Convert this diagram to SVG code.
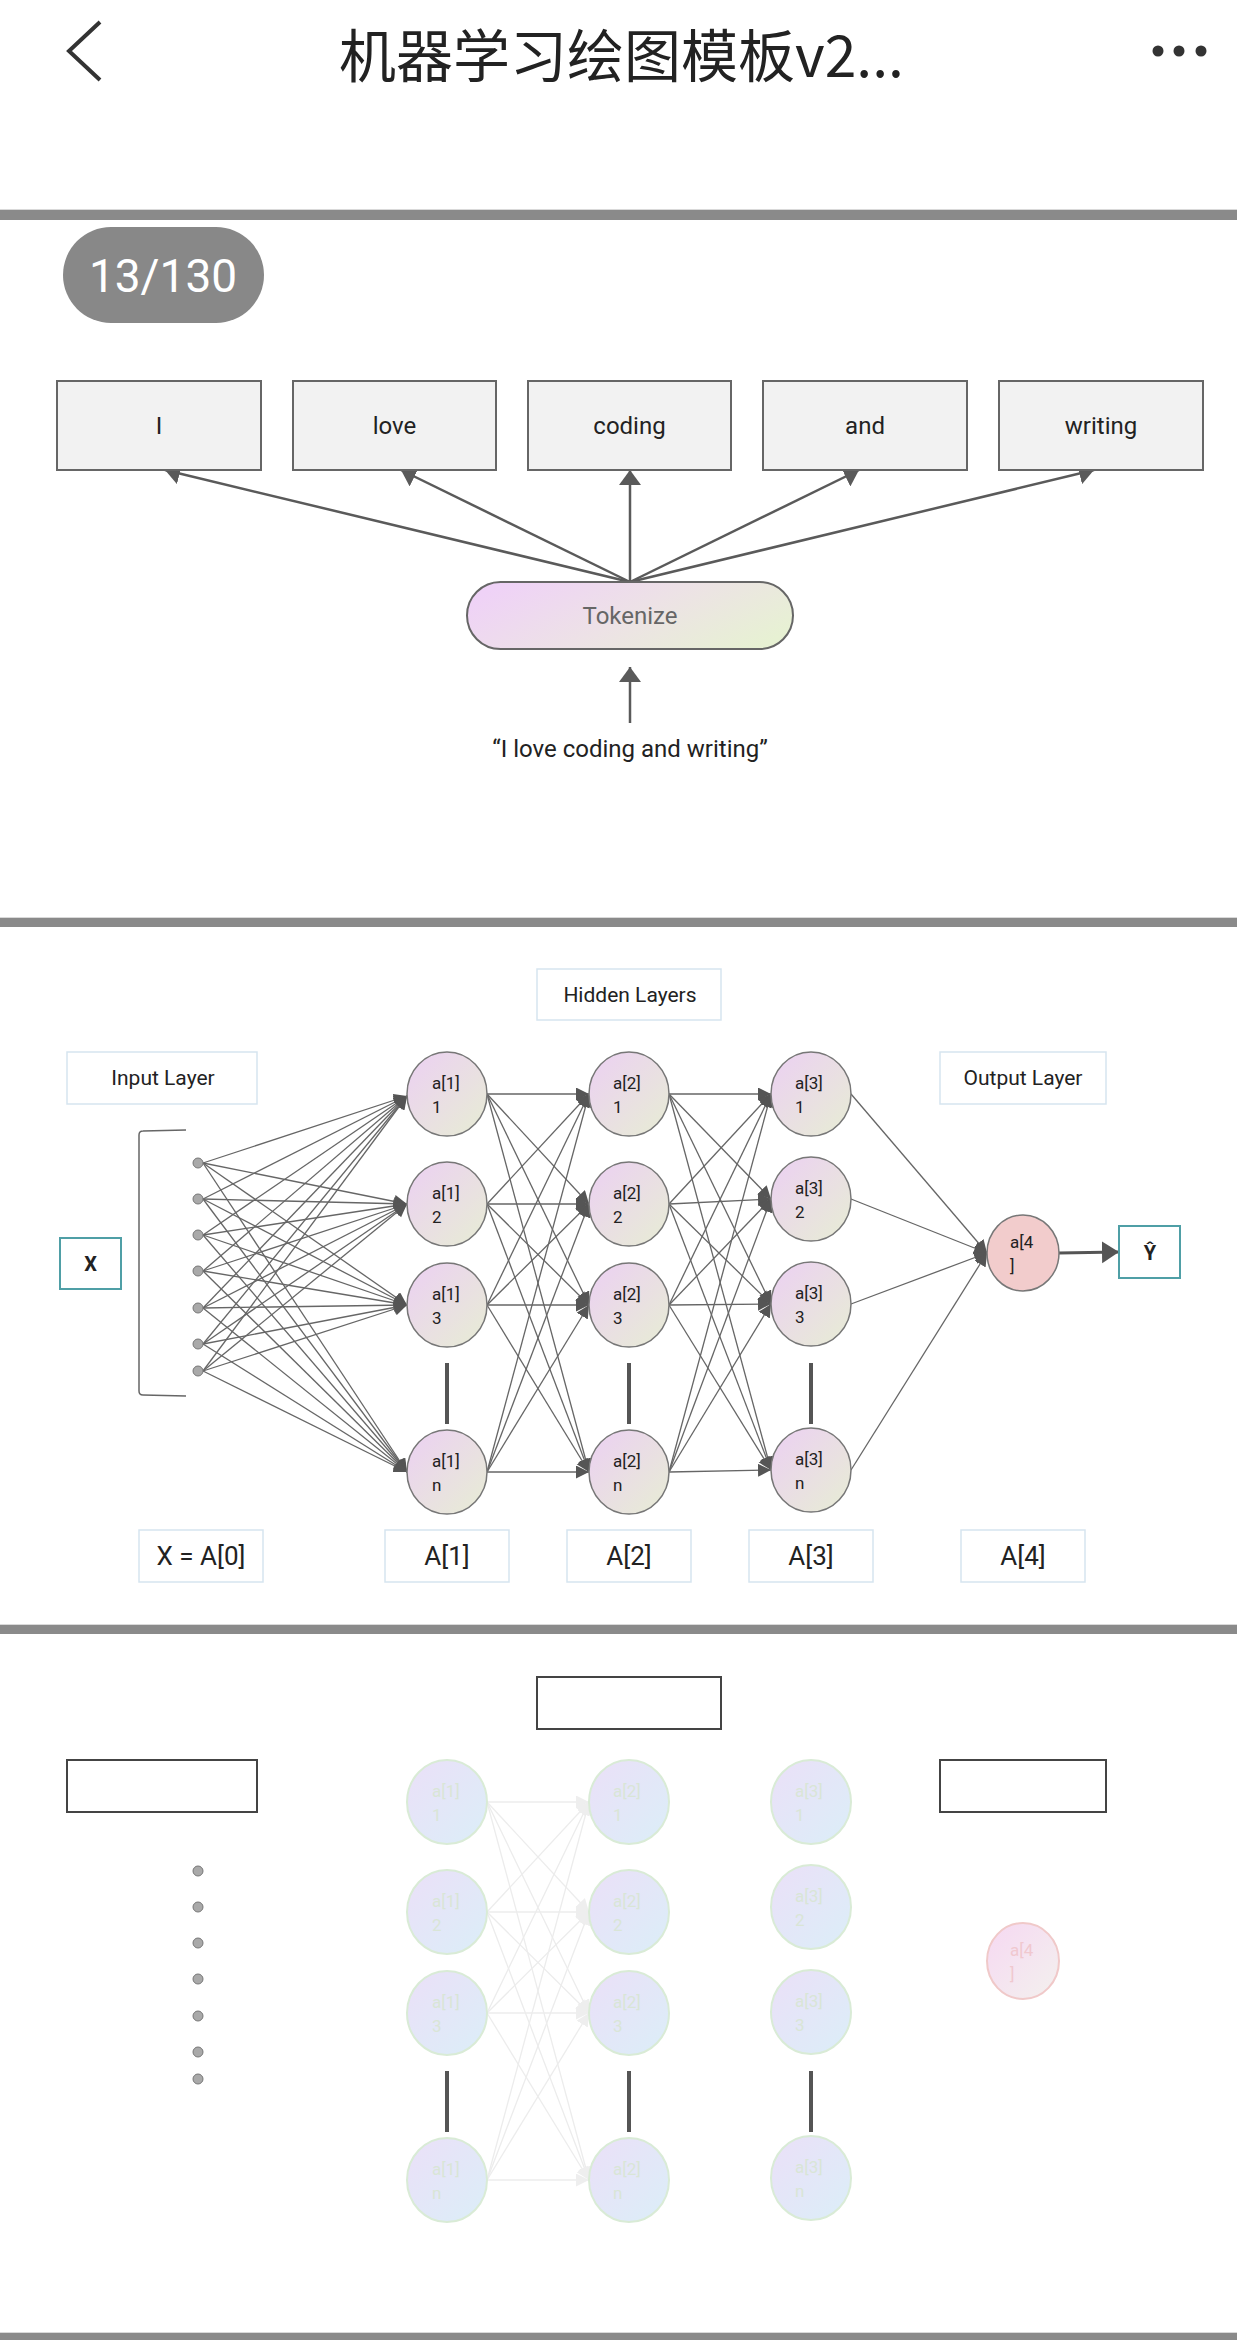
<svg xmlns="http://www.w3.org/2000/svg" width="1237" height="2340" viewBox="0 0 1237 2340">
<defs>
<style>
.t{font-family:Roboto,"Liberation Sans",sans-serif;fill:#222}
.word{fill:#f2f2f2;stroke:#666;stroke-width:2}
.wt{font-size:24px;text-anchor:middle}
.lbl{fill:#fff;stroke:#d6e5ef;stroke-width:1.5}
.neu{fill:url(#gN);stroke:#777;stroke-width:1.5}
.fneu{fill:url(#gF);stroke:#d9ebd6;stroke-width:2}
.nl{font-size:17px}
.fl{font-size:17px;fill:#d9e5d6}
.con{stroke:#666;stroke-width:1.3;fill:none}
.fcon{stroke:#ececec;stroke-width:1.3;fill:none}
.bar{stroke:#555;stroke-width:4}
.sep{fill:#8a8a8a}
.dot{fill:#a9a9a9;stroke:#777;stroke-width:1}
.ebox{fill:#fff;stroke:#444;stroke-width:2}
</style>
<linearGradient id="gN" x1="0" y1="0" x2="1" y2="1"><stop offset="0" stop-color="#ecd0f3"/><stop offset="1" stop-color="#e7edd4"/></linearGradient>
<linearGradient id="gF" x1="0" y1="0" x2="1" y2="1"><stop offset="0" stop-color="#ebe0f8"/><stop offset="1" stop-color="#dbeef8"/></linearGradient>
<linearGradient id="gT" x1="0" y1="0.3" x2="1" y2="0.7"><stop offset="0" stop-color="#efd2f7"/><stop offset="0.5" stop-color="#ede2e6"/><stop offset="1" stop-color="#e7f1d3"/></linearGradient>
<linearGradient id="gFo" x1="0" y1="0" x2="1" y2="1"><stop offset="0" stop-color="#f6d8f2"/><stop offset="1" stop-color="#f3f1ee"/></linearGradient>
<marker id="aw" markerUnits="userSpaceOnUse" markerWidth="16" markerHeight="22" refX="15" refY="11" orient="auto"><path d="M0,0 L15,11 L0,22 z" fill="#5a5a5a"/></marker>
<marker id="ah" markerUnits="userSpaceOnUse" markerWidth="14" markerHeight="14" refX="13" refY="6.5" orient="auto"><path d="M0,0 L13,6.5 L0,13 z" fill="#555"/></marker>
<marker id="af" markerUnits="userSpaceOnUse" markerWidth="14" markerHeight="14" refX="13" refY="6.5" orient="auto"><path d="M0,0 L13,6.5 L0,13 z" fill="#eeeeee"/></marker>
<marker id="ao" markerUnits="userSpaceOnUse" markerWidth="18" markerHeight="24" refX="17" refY="11" orient="auto"><path d="M0,0 L17,11 L0,22 z" fill="#555"/></marker>
</defs>
<rect width="1237" height="2340" fill="#fff"/>

<!-- header -->
<g id="header">
<polyline points="100,22 69,51 100,80" fill="none" stroke="#333" stroke-width="4"/>
<text x="339" y="77" font-family="'Noto Sans CJK SC','Noto Sans',sans-serif" font-size="57" fill="#222">机器学习绘图模板v2...</text>
<circle cx="1158" cy="51" r="5.5" fill="#333"/><circle cx="1179" cy="51" r="5.5" fill="#333"/><circle cx="1201" cy="51" r="5.5" fill="#333"/>
</g>

<!-- separators -->
<g id="separators">
<rect x="0" y="209" width="1237" height="1" fill="#d9d9d9"/><rect class="sep" x="0" y="210" width="1237" height="10"/>
<rect x="0" y="917" width="1237" height="1" fill="#d9d9d9"/><rect class="sep" x="0" y="918" width="1237" height="9"/>
<rect x="0" y="1624" width="1237" height="1" fill="#d9d9d9"/><rect class="sep" x="0" y="1625" width="1237" height="9"/>
<rect x="0" y="2332" width="1237" height="1" fill="#d9d9d9"/><rect class="sep" x="0" y="2333" width="1237" height="7"/>
</g>

<g id="badge">
<rect x="63" y="227" width="201" height="96" rx="48" fill="#888"/>
<text x="163" y="292" font-family="Roboto,'Liberation Sans',sans-serif" font-size="46" fill="#fff" text-anchor="middle">13/130</text>
</g>

<!-- Section 1 -->
<g id="connectors-tokenize" stroke="#5a5a5a" stroke-width="2.5" fill="none">
<line x1="630" y1="582" x2="165" y2="470" marker-end="url(#aw)"/>
<line x1="630" y1="582" x2="401" y2="470" marker-end="url(#aw)"/>
<line x1="630" y1="582" x2="630" y2="470" marker-end="url(#aw)"/>
<line x1="630" y1="582" x2="859" y2="470" marker-end="url(#aw)"/>
<line x1="630" y1="582" x2="1094" y2="470" marker-end="url(#aw)"/>
<line x1="630" y1="723" x2="630" y2="667" marker-end="url(#aw)"/>
</g>
<g id="w-I"><rect class="word" x="57" y="381" width="204" height="89"/><text class="t wt" x="159" y="434">I</text></g>
<g id="w-love"><rect class="word" x="293" y="381" width="203" height="89"/><text class="t wt" x="394.5" y="434">love</text></g>
<g id="w-coding"><rect class="word" x="528" y="381" width="203" height="89"/><text class="t wt" x="629.5" y="434">coding</text></g>
<g id="w-and"><rect class="word" x="763" y="381" width="204" height="89"/><text class="t wt" x="865" y="434">and</text></g>
<g id="w-writing"><rect class="word" x="999" y="381" width="204" height="89"/><text class="t wt" x="1101" y="434">writing</text></g>
<g id="tokenize"><rect x="467" y="582" width="326" height="67" rx="33.5" fill="url(#gT)" stroke="#666" stroke-width="2"/><text class="t wt" x="630" y="624" style="fill:#666">Tokenize</text></g>
<g id="sentence"><text class="t wt" x="630" y="757">“I love coding and writing”</text></g>

<!-- Section 2 -->
<g id="connectors-nn">
<g class="con" marker-end="url(#ah)">
<line x1="203" y1="1163" x2="407" y2="1096"/><line x1="203" y1="1163" x2="407" y2="1204"/><line x1="203" y1="1163" x2="407" y2="1305"/><line x1="203" y1="1163" x2="407" y2="1472"/>
<line x1="203" y1="1199" x2="407" y2="1096"/><line x1="203" y1="1199" x2="407" y2="1204"/><line x1="203" y1="1199" x2="407" y2="1305"/><line x1="203" y1="1199" x2="407" y2="1472"/>
<line x1="203" y1="1235" x2="407" y2="1096"/><line x1="203" y1="1235" x2="407" y2="1204"/><line x1="203" y1="1235" x2="407" y2="1305"/><line x1="203" y1="1235" x2="407" y2="1472"/>
<line x1="203" y1="1271" x2="407" y2="1096"/><line x1="203" y1="1271" x2="407" y2="1204"/><line x1="203" y1="1271" x2="407" y2="1305"/><line x1="203" y1="1271" x2="407" y2="1472"/>
<line x1="203" y1="1308" x2="407" y2="1096"/><line x1="203" y1="1308" x2="407" y2="1204"/><line x1="203" y1="1308" x2="407" y2="1305"/><line x1="203" y1="1308" x2="407" y2="1472"/>
<line x1="203" y1="1344" x2="407" y2="1096"/><line x1="203" y1="1344" x2="407" y2="1204"/><line x1="203" y1="1344" x2="407" y2="1305"/><line x1="203" y1="1344" x2="407" y2="1472"/>
<line x1="203" y1="1371" x2="407" y2="1096"/><line x1="203" y1="1371" x2="407" y2="1204"/><line x1="203" y1="1371" x2="407" y2="1305"/><line x1="203" y1="1371" x2="407" y2="1472"/>

<line x1="487" y1="1094" x2="589" y2="1094"/><line x1="487" y1="1094" x2="589" y2="1204"/><line x1="487" y1="1094" x2="589" y2="1305"/><line x1="487" y1="1094" x2="589" y2="1472"/>
<line x1="487" y1="1204" x2="589" y2="1094"/><line x1="487" y1="1204" x2="589" y2="1204"/><line x1="487" y1="1204" x2="589" y2="1305"/><line x1="487" y1="1204" x2="589" y2="1472"/>
<line x1="487" y1="1305" x2="589" y2="1094"/><line x1="487" y1="1305" x2="589" y2="1204"/><line x1="487" y1="1305" x2="589" y2="1305"/><line x1="487" y1="1305" x2="589" y2="1472"/>
<line x1="487" y1="1472" x2="589" y2="1094"/><line x1="487" y1="1472" x2="589" y2="1204"/><line x1="487" y1="1472" x2="589" y2="1305"/><line x1="487" y1="1472" x2="589" y2="1472"/>

<line x1="669" y1="1094" x2="771" y2="1094"/><line x1="669" y1="1094" x2="771" y2="1199"/><line x1="669" y1="1094" x2="771" y2="1304"/><line x1="669" y1="1094" x2="771" y2="1470"/>
<line x1="669" y1="1204" x2="771" y2="1094"/><line x1="669" y1="1204" x2="771" y2="1199"/><line x1="669" y1="1204" x2="771" y2="1304"/><line x1="669" y1="1204" x2="771" y2="1470"/>
<line x1="669" y1="1305" x2="771" y2="1094"/><line x1="669" y1="1305" x2="771" y2="1199"/><line x1="669" y1="1305" x2="771" y2="1304"/><line x1="669" y1="1305" x2="771" y2="1470"/>
<line x1="669" y1="1472" x2="771" y2="1094"/><line x1="669" y1="1472" x2="771" y2="1199"/><line x1="669" y1="1472" x2="771" y2="1304"/><line x1="669" y1="1472" x2="771" y2="1470"/>

<line x1="851" y1="1094" x2="987" y2="1253"/><line x1="851" y1="1199" x2="987" y2="1253"/><line x1="851" y1="1304" x2="987" y2="1253"/><line x1="851" y1="1470" x2="987" y2="1253"/>
</g>
<line x1="1059" y1="1253" x2="1119" y2="1252" stroke="#555" stroke-width="3" marker-end="url(#ao)"/>
</g>

<g id="lbl-hidden"><rect class="lbl" x="537" y="969" width="184" height="51"/><text class="t" x="630" y="1002" font-size="21" text-anchor="middle">Hidden Layers</text></g>
<g id="lbl-input"><rect class="lbl" x="67" y="1052" width="190" height="52"/><text class="t" x="163" y="1085" font-size="21" text-anchor="middle">Input Layer</text></g>
<g id="lbl-output"><rect class="lbl" x="940" y="1052" width="166" height="52"/><text class="t" x="1023" y="1085" font-size="21" text-anchor="middle">Output Layer</text></g>
<g id="box-x"><rect x="60" y="1238" width="61" height="51" fill="#fff" stroke="#4f9fa6" stroke-width="2"/><text class="t" x="90.5" y="1271" font-size="20" font-weight="bold" text-anchor="middle">X</text></g>
<g id="box-y"><rect x="1119" y="1226" width="61" height="52" fill="#fff" stroke="#4f9fa6" stroke-width="2"/><text class="t" x="1150" y="1260" font-size="20" font-weight="bold" text-anchor="middle">Ŷ</text></g>

<g id="input-bracket"><path d="M186,1130 L143,1131 Q139,1131 139,1135 L139,1391 Q139,1395 143,1395 L186,1396" fill="none" stroke="#666" stroke-width="1.5"/></g>
<g id="input-dots">
<circle class="dot" cx="198" cy="1163" r="5"/><circle class="dot" cx="198" cy="1199" r="5"/><circle class="dot" cx="198" cy="1235" r="5"/><circle class="dot" cx="198" cy="1271" r="5"/><circle class="dot" cx="198" cy="1308" r="5"/><circle class="dot" cx="198" cy="1344" r="5"/><circle class="dot" cx="198" cy="1371" r="5"/>
</g>

<g id="n-a1-1"><ellipse class="neu" cx="447" cy="1094" rx="40" ry="42"/><text class="t nl" x="432" y="1089">a[1]</text><text class="t nl" x="432" y="1113">1</text></g>
<g id="n-a1-2"><ellipse class="neu" cx="447" cy="1204" rx="40" ry="42"/><text class="t nl" x="432" y="1199">a[1]</text><text class="t nl" x="432" y="1223">2</text></g>
<g id="n-a1-3"><ellipse class="neu" cx="447" cy="1305" rx="40" ry="42"/><text class="t nl" x="432" y="1300">a[1]</text><text class="t nl" x="432" y="1324">3</text></g>
<g id="n-a1-n"><ellipse class="neu" cx="447" cy="1472" rx="40" ry="42"/><text class="t nl" x="432" y="1467">a[1]</text><text class="t nl" x="432" y="1491">n</text></g>
<g id="n-a2-1"><ellipse class="neu" cx="629" cy="1094" rx="40" ry="42"/><text class="t nl" x="613" y="1089">a[2]</text><text class="t nl" x="613" y="1113">1</text></g>
<g id="n-a2-2"><ellipse class="neu" cx="629" cy="1204" rx="40" ry="42"/><text class="t nl" x="613" y="1199">a[2]</text><text class="t nl" x="613" y="1223">2</text></g>
<g id="n-a2-3"><ellipse class="neu" cx="629" cy="1305" rx="40" ry="42"/><text class="t nl" x="613" y="1300">a[2]</text><text class="t nl" x="613" y="1324">3</text></g>
<g id="n-a2-n"><ellipse class="neu" cx="629" cy="1472" rx="40" ry="42"/><text class="t nl" x="613" y="1467">a[2]</text><text class="t nl" x="613" y="1491">n</text></g>
<g id="n-a3-1"><ellipse class="neu" cx="811" cy="1094" rx="40" ry="42"/><text class="t nl" x="795" y="1089">a[3]</text><text class="t nl" x="795" y="1113">1</text></g>
<g id="n-a3-2"><ellipse class="neu" cx="811" cy="1199" rx="40" ry="42"/><text class="t nl" x="795" y="1194">a[3]</text><text class="t nl" x="795" y="1218">2</text></g>
<g id="n-a3-3"><ellipse class="neu" cx="811" cy="1304" rx="40" ry="42"/><text class="t nl" x="795" y="1299">a[3]</text><text class="t nl" x="795" y="1323">3</text></g>
<g id="n-a3-n"><ellipse class="neu" cx="811" cy="1470" rx="40" ry="42"/><text class="t nl" x="795" y="1465">a[3]</text><text class="t nl" x="795" y="1489">n</text></g>
<g id="n-a4"><ellipse cx="1023" cy="1253" rx="36" ry="38" fill="#f2cccc" stroke="#777" stroke-width="1.5"/><text class="t nl" x="1010" y="1248">a[4</text><text class="t nl" x="1010" y="1272">]</text></g>

<g id="bars2"><line class="bar" x1="447" y1="1363" x2="447" y2="1424"/><line class="bar" x1="629" y1="1363" x2="629" y2="1424"/><line class="bar" x1="811" y1="1363" x2="811" y2="1424"/></g>

<g id="lbl-A0"><rect class="lbl" x="139" y="1530" width="124" height="52"/><text class="t" x="201" y="1565" font-size="26" text-anchor="middle">X = A[0]</text></g>
<g id="lbl-A1"><rect class="lbl" x="385" y="1530" width="124" height="52"/><text class="t" x="447" y="1565" font-size="26" text-anchor="middle">A[1]</text></g>
<g id="lbl-A2"><rect class="lbl" x="567" y="1530" width="124" height="52"/><text class="t" x="629" y="1565" font-size="26" text-anchor="middle">A[2]</text></g>
<g id="lbl-A3"><rect class="lbl" x="749" y="1530" width="124" height="52"/><text class="t" x="811" y="1565" font-size="26" text-anchor="middle">A[3]</text></g>
<g id="lbl-A4"><rect class="lbl" x="961" y="1530" width="124" height="52"/><text class="t" x="1023" y="1565" font-size="26" text-anchor="middle">A[4]</text></g>

<!-- Section 3 (faded) -->
<g id="connectors-faded" class="fcon" marker-end="url(#af)">
<line x1="487" y1="1802" x2="589" y2="1802"/><line x1="487" y1="1802" x2="589" y2="1912"/><line x1="487" y1="1802" x2="589" y2="2013"/><line x1="487" y1="1802" x2="589" y2="2180"/>
<line x1="487" y1="1912" x2="589" y2="1802"/><line x1="487" y1="1912" x2="589" y2="1912"/><line x1="487" y1="1912" x2="589" y2="2013"/><line x1="487" y1="1912" x2="589" y2="2180"/>
<line x1="487" y1="2013" x2="589" y2="1802"/><line x1="487" y1="2013" x2="589" y2="1912"/><line x1="487" y1="2013" x2="589" y2="2013"/><line x1="487" y1="2013" x2="589" y2="2180"/>
<line x1="487" y1="2180" x2="589" y2="1802"/><line x1="487" y1="2180" x2="589" y2="1912"/><line x1="487" y1="2180" x2="589" y2="2013"/><line x1="487" y1="2180" x2="589" y2="2180"/>
</g>
<g id="f-hidden"><rect class="ebox" x="537" y="1677" width="184" height="52"/></g>
<g id="f-input"><rect class="ebox" x="67" y="1760" width="190" height="52"/></g>
<g id="f-output"><rect class="ebox" x="940" y="1760" width="166" height="52"/></g>
<g id="f-dots">
<circle class="dot" cx="198" cy="1871" r="5"/><circle class="dot" cx="198" cy="1907" r="5"/><circle class="dot" cx="198" cy="1943" r="5"/><circle class="dot" cx="198" cy="1979" r="5"/><circle class="dot" cx="198" cy="2016" r="5"/><circle class="dot" cx="198" cy="2052" r="5"/><circle class="dot" cx="198" cy="2079" r="5"/>
</g>
<g id="f-a1-1"><ellipse class="fneu" cx="447" cy="1802" rx="40" ry="42"/><text class="t fl" x="432" y="1797">a[1]</text><text class="t fl" x="432" y="1821">1</text></g>
<g id="f-a1-2"><ellipse class="fneu" cx="447" cy="1912" rx="40" ry="42"/><text class="t fl" x="432" y="1907">a[1]</text><text class="t fl" x="432" y="1931">2</text></g>
<g id="f-a1-3"><ellipse class="fneu" cx="447" cy="2013" rx="40" ry="42"/><text class="t fl" x="432" y="2008">a[1]</text><text class="t fl" x="432" y="2032">3</text></g>
<g id="f-a1-n"><ellipse class="fneu" cx="447" cy="2180" rx="40" ry="42"/><text class="t fl" x="432" y="2175">a[1]</text><text class="t fl" x="432" y="2199">n</text></g>
<g id="f-a2-1"><ellipse class="fneu" cx="629" cy="1802" rx="40" ry="42"/><text class="t fl" x="613" y="1797">a[2]</text><text class="t fl" x="613" y="1821">1</text></g>
<g id="f-a2-2"><ellipse class="fneu" cx="629" cy="1912" rx="40" ry="42"/><text class="t fl" x="613" y="1907">a[2]</text><text class="t fl" x="613" y="1931">2</text></g>
<g id="f-a2-3"><ellipse class="fneu" cx="629" cy="2013" rx="40" ry="42"/><text class="t fl" x="613" y="2008">a[2]</text><text class="t fl" x="613" y="2032">3</text></g>
<g id="f-a2-n"><ellipse class="fneu" cx="629" cy="2180" rx="40" ry="42"/><text class="t fl" x="613" y="2175">a[2]</text><text class="t fl" x="613" y="2199">n</text></g>
<g id="f-a3-1"><ellipse class="fneu" cx="811" cy="1802" rx="40" ry="42"/><text class="t fl" x="795" y="1797">a[3]</text><text class="t fl" x="795" y="1821">1</text></g>
<g id="f-a3-2"><ellipse class="fneu" cx="811" cy="1907" rx="40" ry="42"/><text class="t fl" x="795" y="1902">a[3]</text><text class="t fl" x="795" y="1926">2</text></g>
<g id="f-a3-3"><ellipse class="fneu" cx="811" cy="2012" rx="40" ry="42"/><text class="t fl" x="795" y="2007">a[3]</text><text class="t fl" x="795" y="2031">3</text></g>
<g id="f-a3-n"><ellipse class="fneu" cx="811" cy="2178" rx="40" ry="42"/><text class="t fl" x="795" y="2173">a[3]</text><text class="t fl" x="795" y="2197">n</text></g>
<g id="f-a4"><ellipse cx="1023" cy="1961" rx="36" ry="38" fill="url(#gFo)" stroke="#f0c9c9" stroke-width="2"/><text class="t nl" x="1010" y="1956" style="fill:#f0c8cf">a[4</text><text class="t nl" x="1010" y="1980" style="fill:#f0c8cf">]</text></g>
<g id="bars3"><line class="bar" x1="447" y1="2071" x2="447" y2="2132"/><line class="bar" x1="629" y1="2071" x2="629" y2="2132"/><line class="bar" x1="811" y1="2071" x2="811" y2="2132"/></g>
</svg>
